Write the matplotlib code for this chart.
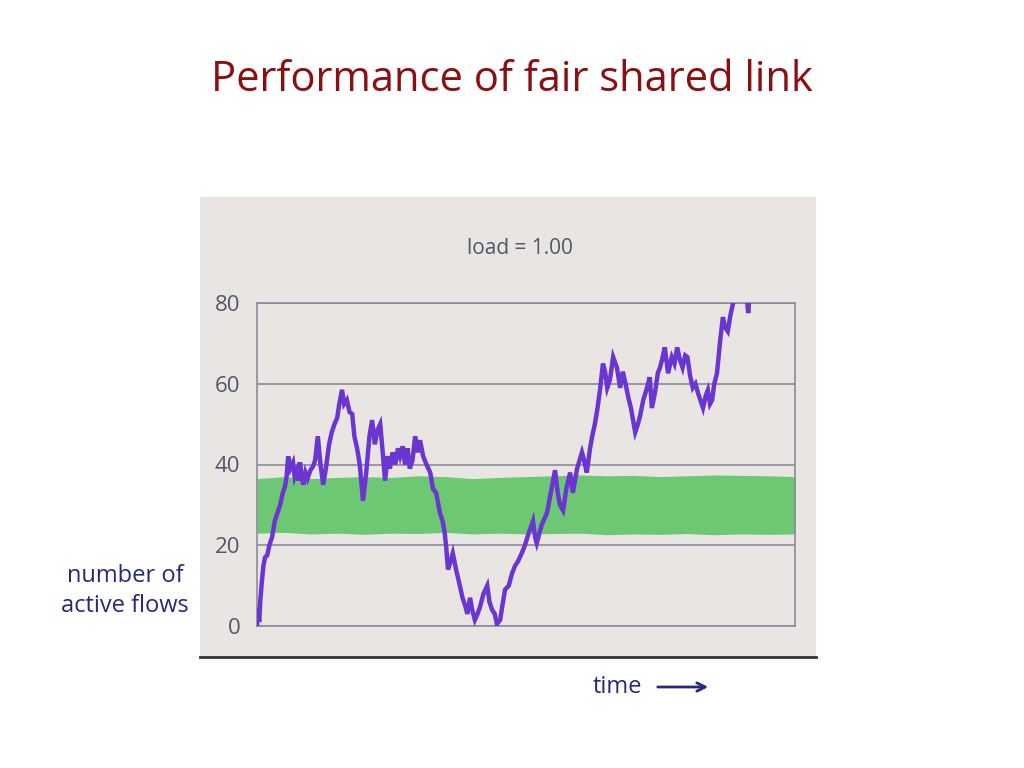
import matplotlib
matplotlib.use("Agg")
import matplotlib.pyplot as plt

# number of active flows (time in % of the window)
flow_t = [0.0, 0.2, 0.4, 0.6, 0.9, 1.2, 1.5, 1.9, 2.3, 2.8, 3.3, 3.8, 4.3, 4.8, 5.2, 5.5, 5.8,
          6.2, 6.7, 7.0, 7.4, 7.7, 8.0, 8.3, 8.6, 9.0, 9.4, 9.9, 10.4, 10.8, 11.3, 11.8, 12.3,
          12.8, 13.4, 13.9, 14.4, 14.9, 15.3, 15.8, 16.2, 16.7, 17.2, 17.7, 18.1, 18.6, 19.1,
          19.7, 20.3, 20.9, 21.4, 21.9, 22.4, 22.9, 23.3, 23.8, 24.3, 24.7, 25.2, 25.7, 26.2,
          26.6, 27.1, 27.5, 28.0, 28.4, 28.9, 29.4, 29.9, 30.3, 30.9, 31.5, 32.2, 32.7, 33.3,
          34.0, 34.5, 34.9, 35.2, 35.5, 36.0, 36.4, 37.0, 37.7, 38.2, 38.7, 39.1, 39.6, 40.0,
          40.5, 41.0, 41.4, 42.1, 42.8, 43.2, 43.7, 44.2, 44.6, 45.2, 45.6, 46.1, 46.8, 47.4,
          48.0, 48.5, 49.2, 49.8, 50.5, 51.3, 51.7, 52.0, 52.9, 53.9, 54.6, 55.4, 55.9, 56.3,
          56.9, 57.5, 58.2, 58.7, 59.5, 60.4, 60.8, 61.3, 61.9, 62.3, 62.8, 63.3, 63.8, 64.3,
          64.7, 65.1, 65.6, 66.2, 66.9, 67.5, 68.0, 68.5, 69.0, 69.5, 69.9, 70.3, 70.8, 71.2,
          71.8, 72.5, 73.0, 73.4, 74.0, 74.5, 74.9, 75.3, 75.8, 76.4, 77.1, 77.6, 78.1, 78.6,
          79.1, 79.6, 80.0, 80.5, 81.0, 81.5, 82.0, 82.4, 82.9, 83.4, 83.8, 84.2, 84.6, 85.0,
          85.5, 86.1, 86.6, 87.0, 87.5, 88.0, 88.5, 89.3, 90.2, 91.0, 91.3, 91.6, 92.4]
flow_n = [0.0, 4.5, 1.0, 6.0, 11.0, 15.0, 17.0, 17.5, 20.0, 22.0, 26.0, 28.0, 30.0, 33.0, 34.5,
          37.0, 42.0, 39.0, 40.5, 37.0, 38.5, 36.0, 40.5, 37.0, 35.0, 38.0, 36.5, 38.5, 39.5,
          41.0, 47.0, 40.0, 35.0, 39.0, 45.0, 48.0, 50.0, 51.5, 55.0, 58.5, 55.0, 56.0, 53.0,
          52.5, 47.0, 44.0, 40.0, 31.0, 38.0, 47.0, 51.0, 45.0, 48.5, 50.0, 44.0, 36.0, 42.0,
          39.0, 43.0, 40.0, 44.0, 42.0, 44.5, 40.0, 44.0, 39.0, 41.0, 47.0, 43.0, 46.0, 42.0,
          40.0, 38.0, 34.0, 33.0, 28.0, 26.0, 23.0, 19.0, 14.0, 16.0, 18.0, 14.0, 10.0, 7.0,
          5.0, 3.0, 7.0, 4.0, 1.5, 3.0, 4.5, 8.0, 10.0, 6.0, 4.0, 3.0, 0.5, 1.5, 5.0, 9.0, 10.0,
          13.0, 15.0, 16.0, 18.0, 20.0, 23.0, 26.0, 22.0, 20.5, 25.0, 28.0, 33.0, 38.6, 33.0,
          30.0, 28.6, 34.0, 38.0, 33.0, 39.0, 43.0, 41.0, 38.0, 44.0, 47.0, 50.0, 54.0, 59.0,
          65.0, 63.0, 59.0, 61.0, 66.6, 64.0, 59.0, 63.0, 60.0, 56.7, 54.0, 51.0, 48.0, 50.0,
          52.0, 56.0, 59.0, 61.6, 54.0, 58.0, 62.6, 64.0, 66.0, 69.0, 62.6, 66.6, 65.0, 69.0,
          66.0, 64.0, 67.0, 66.6, 62.0, 59.0, 60.0, 57.6, 56.0, 54.0, 57.0, 58.4, 55.0, 56.0,
          60.0, 62.6, 70.8, 76.5, 74.0, 73.0, 77.0, 80.0, 84.0, 86.0, 82.0, 77.5, 83.0, 88.0]

# fair-share band: upper and lower edge of the green area
band_t = [0.0, 5.0, 10.0, 15.0, 20.0, 25.0, 30.0, 35.0, 40.0, 45.0, 50.0, 55.0, 60.0,
          65.0, 70.0, 75.0, 80.0, 85.0, 90.0, 95.0, 100.0]
band_hi = [36.5, 37.0, 36.5, 36.8, 37.0, 36.8, 37.2, 37.0, 36.5, 36.8, 37.0, 37.2, 37.4,
           37.2, 37.3, 37.0, 37.2, 37.4, 37.3, 37.2, 37.0]
band_lo = [23.0, 23.2, 22.8, 23.0, 22.7, 23.0, 22.9, 23.2, 22.8, 23.0, 22.8, 22.9, 23.0,
           22.6, 22.8, 22.7, 22.9, 22.6, 22.8, 22.7, 22.8]

yticks = [0, 20, 40, 60, 80]

panel_bg = '#e8e5e3'
grid_c = '#8a8a9c'
tick_c = '#55556a'
navy = '#27277f'

fig = plt.figure(figsize=(10.24, 7.68), dpi=100)
fig.patch.set_facecolor('white')

fig.text(0.5, 1 - 80 / 768, 'Performance of fair shared link', ha='center', va='center',
         fontsize=30, color='#8b0f10', family='Open Sans')

# gray panel behind the chart
bg = fig.add_axes([200 / 1024, 1 - 657 / 768, 616 / 1024, 460 / 768])
bg.set_facecolor(panel_bg)
bg.set_xticks([])
bg.set_yticks([])
for sp in ['top', 'left', 'right']:
    bg.spines[sp].set_visible(False)
bg.spines['bottom'].set_color('#333333')
bg.spines['bottom'].set_linewidth(2)
bg.text(0.52, 1 - 51 / 460, 'load = 1.00', transform=bg.transAxes, ha='center', va='center',
        fontsize=15, color=tick_c, family='Open Sans')

ax = fig.add_axes([257 / 1024, 1 - 626 / 768, 538 / 1024, 323 / 768])
ax.set_facecolor(panel_bg)
ax.fill_between(band_t, band_lo, band_hi, color='#6cc873', lw=0, zorder=2)
ax.plot(flow_t, flow_n, color='#6a35d0', lw=3.2, zorder=3, solid_joinstyle='miter')
ax.set_xlim(0, 100)
ax.set_ylim(0, 80)
ax.set_xticks([])
ax.set_yticks(yticks)
ax.set_yticklabels([str(v) for v in yticks], family='Open Sans')
ax.tick_params(axis='y', length=0, pad=12, labelsize=16, labelcolor=tick_c)
ax.grid(axis='y', color=grid_c, lw=1.2, zorder=1)
for sp in ax.spines.values():
    sp.set_color(grid_c)
    sp.set_linewidth(1.2)

fig.text(125 / 1024, 1 - 591 / 768, 'number of\nactive flows', ha='center', va='center',
         fontsize=17, color=navy, family='Open Sans', linespacing=1.35)
fig.text(617 / 1024, 1 - 687 / 768, 'time', ha='center', va='center', fontsize=17,
         color=navy, family='Open Sans')
fig.add_artist(matplotlib.patches.FancyArrowPatch(
    (655 / 1024, 1 - 687 / 768), (711 / 1024, 1 - 687 / 768), transform=fig.transFigure,
    arrowstyle='->,head_length=6,head_width=3', color=navy, lw=2))

fig.savefig('out.png', dpi=100)
